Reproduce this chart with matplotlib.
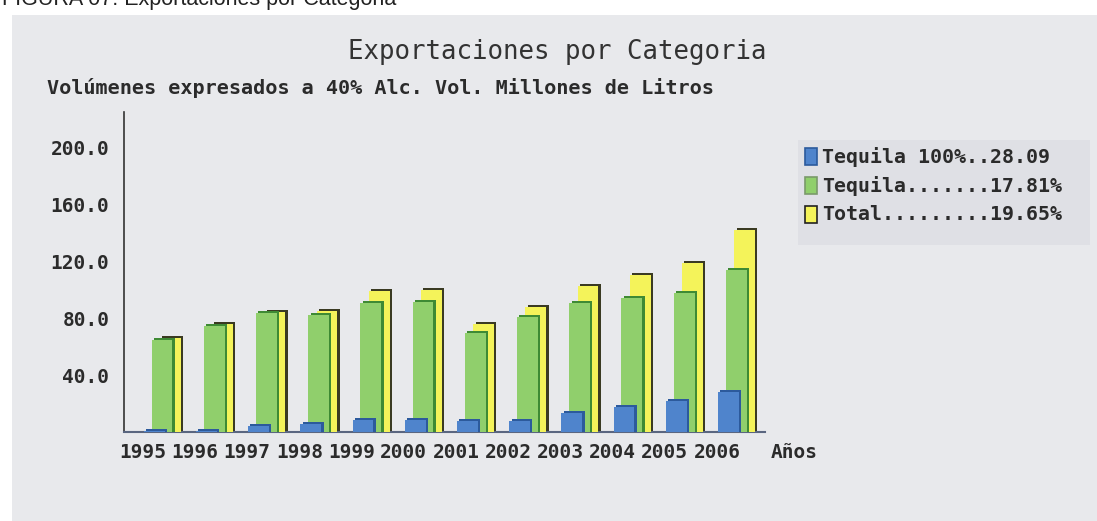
import matplotlib
matplotlib.use("Agg")
import matplotlib.pyplot as plt
from matplotlib.patches import Rectangle
import numpy as np

years = ["1995", "1996", "1997", "1998", "1999", "2000",
         "2001", "2002", "2003", "2004", "2005", "2006"]
tequila_100 = [0.5, 1.0, 4.0, 5.5, 8.5, 8.5, 8.0, 8.0, 13.5, 17.5, 22.0, 28.09]
tequila = [64.8, 74.2, 83.6, 82.4, 90.6, 91.3, 69.5, 81.2, 91.0, 94.1, 98.0, 113.6]
total = [66.0, 75.8, 84.7, 85.4, 98.8, 100.0, 76.0, 88.2, 102.8, 110.6, 118.8, 141.8]
legend_labels = ["Tequila 100%..28.09", "Tequila.......17.81%", "Total.........19.65%"]
y_ticks = [40, 80, 120, 160, 200]

W, H = 1097, 521
fig = plt.figure(figsize=(W / 100, H / 100), dpi=100, facecolor="white")

mono = "DejaVu Sans Mono"
ink = "#2b2b2b"

# grey panel behind the chart
fig.patches.append(Rectangle((12 / W, 0), 1, (H - 15) / H, transform=fig.transFigure,
                             facecolor="#e8e9ec", edgecolor="none", zorder=-2))
# legend backdrop
fig.patches.append(Rectangle((798 / W, (H - 245) / H), 292 / W, 105 / H,
                             transform=fig.transFigure, facecolor="#dfe0e5",
                             edgecolor="none", zorder=-1))

fig.text(2 / W, 1.0, "FIGURA 07: Exportaciones por Categoria", fontsize=15.5,
         family="Liberation Sans", color="#222222", va="center", ha="left")

ax = fig.add_axes([124 / W, (H - 432) / H, (765 - 124) / W, (432 - 112) / H])
ax.set_facecolor("none")

x = np.arange(len(years))
bw = 0.40
series = [
    (total, 0.33, "#f4f35a", "#3a3a22"),
    (tequila, 0.17, "#90cf6c", "#3e8a34"),
    (tequila_100, 0.02, "#4f84cc", "#2c5a9c"),
]
for z, (vals, off, face, dark) in enumerate(series):
    vals = np.array(vals)
    # dark shadow to give the bars some depth
    ax.bar(x + off + 0.045, vals + 1.4, width=bw, align="edge", color=dark,
           zorder=2 + 2 * z, linewidth=0)
    ax.bar(x + off, vals, width=bw, align="edge", color=face,
           zorder=3 + 2 * z, linewidth=0)

ax.set_xlim(-0.358, 11.92)
ax.set_ylim(0, 225)
ax.set_xticks(x)
ax.set_xticklabels(years)
ax.set_yticks(y_ticks)
ax.set_yticklabels([f"{v:.1f}" for v in y_ticks])
ax.tick_params(length=0, labelsize=14, colors=ink, pad=8)
ax.tick_params(axis="y", pad=10.5)
for lab in ax.get_xticklabels() + ax.get_yticklabels():
    lab.set_family(mono)
    lab.set_fontweight("bold")

for side in ("top", "right"):
    ax.spines[side].set_visible(False)
ax.spines["left"].set_color("#333333")
ax.spines["bottom"].set_color("#5a6680")
ax.spines["left"].set_linewidth(1.2)
ax.spines["bottom"].set_linewidth(1.5)

fig.text(771 / W, (H - 452) / H, "Años", family=mono, fontweight="bold",
         fontsize=14, color=ink, va="center", ha="left")

fig.text(557 / W, (H - 52) / H, "Exportaciones por Categoria", family=mono,
         fontsize=18.5, color="#333333", ha="center", va="center")
fig.text(47 / W, (H - 88) / H, "Volúmenes expresados a 40% Alc. Vol. Millones de Litros",
         family=mono, fontweight="bold", fontsize=14.5, color=ink, ha="left", va="center")

# legend entries
leg_colors = [("#4f84cc", "#2c5a9c"), ("#90cf6c", "#7a9a6a"), ("#f4f35a", "#222222")]
for i, (lab, (face, edge)) in enumerate(zip(legend_labels, leg_colors)):
    yc = 157 + i * 29
    fig.patches.append(Rectangle((805 / W, (H - yc - 8) / H), 12 / W, 17 / H,
                                 transform=fig.transFigure, facecolor=face,
                                 edgecolor=edge, linewidth=1.2, zorder=3))
    fig.text(822 / W, (H - yc) / H, lab, family=mono, fontweight="bold",
             fontsize=14.3, color=ink, ha="left", va="center")

fig.savefig("out.png", dpi=100, facecolor=fig.get_facecolor())
